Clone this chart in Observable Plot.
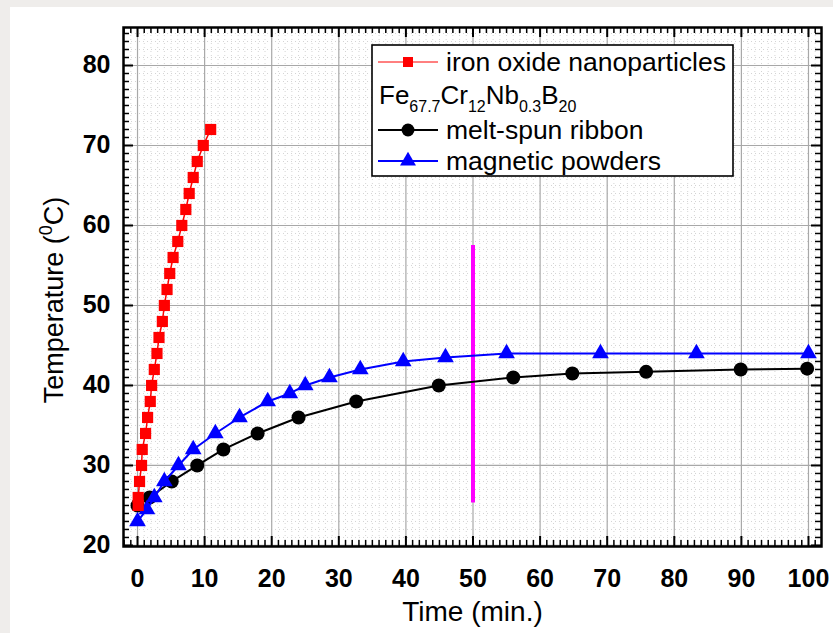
<!DOCTYPE html>
<html><head><meta charset="utf-8">
<script src="https://cdn.jsdelivr.net/npm/d3@7"></script>
<script src="https://cdn.jsdelivr.net/npm/@observablehq/plot@0.6"></script>
<style>
html,body{margin:0;padding:0;background:#efedeb;width:833px;height:633px;overflow:hidden}
#chart{position:absolute;left:10px;top:7px;}
</style></head><body><div id="chart"></div>
<script>
// ---- data ----
const ironTime = [0.1, 0.1, 0.3, 0.6, 0.7, 1.2, 1.5, 1.9, 2.1, 2.5, 2.9, 3.2, 3.7, 4.0, 4.4, 4.8, 5.3, 6.0, 6.6, 7.2, 7.7, 8.3, 8.9, 9.8, 10.9];
const ironTemp = [25, 26, 28, 30, 32, 34, 36, 38, 40, 42, 44, 46, 48, 50, 52, 54, 56, 58, 60, 62, 64, 66, 68, 70, 72];
const ribbonTime = [0, 1.8, 5.1, 8.9, 12.8, 17.9, 24.0, 32.6, 44.9, 56.0, 64.8, 75.8, 89.9, 99.8];
const ribbonTemp = [25, 26, 28, 30, 32, 34, 36, 38, 40, 41, 41.5, 41.7, 42, 42.1];
const powderTime = [0, 1.4, 2.5, 4.0, 6.1, 8.3, 11.6, 15.2, 19.4, 22.7, 25.0, 28.6, 33.2, 39.6, 45.9, 55.0, 69.0, 83.3, 100];
const powderTemp = [23, 24.5, 26, 28, 30, 32, 34, 36, 38, 39, 40, 41, 42, 43, 43.5, 44, 44, 44, 44];
const markerTime = 50;
const markerTempFrom = 25.3;
const markerTempTo = 57.5;
const xTicks = [0, 10, 20, 30, 40, 50, 60, 70, 80, 90, 100];
const yTicks = [20, 30, 40, 50, 60, 70, 80];
const xMinor = d3.range(-2, 102, 1).filter(v => v % 10 !== 0);
const yMinor = d3.range(20, 85, 1).filter(v => v % 10 !== 0);
const legendLabels = ["iron oxide nanoparticles", "melt-spun ribbon", "magnetic powders"];

const iron = ironTime.map((t, i) => ({t, T: ironTemp[i]}));
const ribbon = ribbonTime.map((t, i) => ({t, T: ribbonTemp[i]}));
const powder = powderTime.map((t, i) => ({t, T: powderTemp[i]}));

const W = 823, H = 626;
const mL = 113, mR = 12, mT = 20, mB = 87;
const innerW = W - mL - mR, innerH = H - mT - mB;
const font = "'Liberation Sans', Arial, Helvetica, sans-serif";

const plot = Plot.plot({
  width: W, height: H,
  marginLeft: mL, marginRight: mR, marginTop: mT, marginBottom: mB,
  x: {domain: [-2.09, 101.94], axis: null},
  y: {domain: [19.87, 84.75], axis: null},
  style: {fontFamily: font, background: "white", color: "black", overflow: "visible"},
  marks: [
    Plot.gridX(xMinor, {stroke: "#d4d4d4", strokeOpacity: 1, strokeDasharray: "1,3"}),
    Plot.gridY(yMinor, {stroke: "#d4d4d4", strokeOpacity: 1, strokeDasharray: "1,3"}),
    Plot.gridX(xTicks, {stroke: "#a8a8a8", strokeOpacity: 1, strokeWidth: 1.2}),
    Plot.gridY(yTicks, {stroke: "#a8a8a8", strokeOpacity: 1, strokeWidth: 1.2}),
    // inward ticks
    Plot.tickX(xTicks, {x: d => d, insetTop: innerH - 10, strokeWidth: 2}),
    Plot.tickX(xTicks, {x: d => d, insetBottom: innerH - 10, strokeWidth: 2}),
    Plot.tickX(xMinor, {x: d => d, insetTop: innerH - 6, strokeWidth: 1.5}),
    Plot.tickX(xMinor, {x: d => d, insetBottom: innerH - 6, strokeWidth: 1.5}),
    Plot.tickY(yTicks, {y: d => d, insetRight: innerW - 10, strokeWidth: 2}),
    Plot.tickY(yTicks, {y: d => d, insetLeft: innerW - 10, strokeWidth: 2}),
    Plot.tickY(yMinor, {y: d => d, insetRight: innerW - 6, strokeWidth: 1.5}),
    Plot.tickY(yMinor, {y: d => d, insetLeft: innerW - 6, strokeWidth: 1.5}),
    Plot.axisX(xTicks, {anchor: "bottom", tickSize: 0, tickPadding: 23, fontSize: 25, fontWeight: "bold", label: null}),
    Plot.axisY(yTicks, {anchor: "left", tickSize: 0, tickPadding: 13, fontSize: 25, fontWeight: "bold", label: null}),
    Plot.ruleX([markerTime], {y1: markerTempFrom, y2: markerTempTo, stroke: "#ff00ff", strokeWidth: 4}),
    Plot.line(ribbon, {x: "t", y: "T", stroke: "black", strokeWidth: 2}),
    Plot.dot(ribbon, {x: "t", y: "T", fill: "black", r: 7, symbol: "circle"}),
    Plot.line(powder, {x: "t", y: "T", stroke: "#0000ff", strokeWidth: 2}),
    Plot.dot(powder, {x: "t", y: "T", fill: "#0000ff", r: 6.2, symbol: "triangle"}),
    Plot.line(iron, {x: "t", y: "T", stroke: "#ff0000", strokeWidth: 1.5}),
    Plot.dot(iron, {x: "t", y: "T", fill: "#ff0000", r: 6.3, symbol: "square"}),
    Plot.frame({stroke: "black", strokeWidth: 2.5}),
    Plot.text(["Time (min.)"], {frameAnchor: "bottom", dy: 74, fontSize: 28, text: d => d})
  ]
});
document.getElementById("chart").appendChild(plot);

// ---- y axis title with superscript ----
const svg = d3.select(plot);
const yt = svg.append("text")
  .attr("transform", "translate(53,293) rotate(-90)")
  .attr("text-anchor", "middle")
  .attr("font-size", 27)
  .attr("font-family", font)
  .attr("fill", "black");
yt.append("tspan").text("Temperature (");
yt.append("tspan").attr("font-size", 18).attr("dy", -11).text("0");
yt.append("tspan").attr("dy", 11).text("C)");

// ---- legend ----
const lg = svg.append("g").attr("font-family", font).attr("fill", "black").attr("text-anchor", "start");
lg.append("rect").attr("x", 362).attr("y", 38).attr("width", 361).attr("height", 131)
  .attr("fill", "white").attr("stroke", "black").attr("stroke-width", 1.6);
const rows = [
  {y: 55, color: "#ff0000", w: 1, sym: d3.symbolSquare, size: 100, label: legendLabels[0]},
  {y: 123, color: "black", w: 2, sym: d3.symbolCircle, size: 130, label: legendLabels[1]},
  {y: 154, color: "#0000ff", w: 2, sym: d3.symbolTriangle, size: 110, label: legendLabels[2]}
];
for (const r of rows) {
  lg.append("line").attr("x1", 368).attr("x2", 428).attr("y1", r.y).attr("y2", r.y)
    .attr("stroke", r.color).attr("stroke-width", r.w);
  lg.append("path").attr("d", d3.symbol(r.sym, r.size)()).attr("transform", `translate(398,${r.y})`)
    .attr("fill", r.color);
  lg.append("text").attr("x", 436).attr("y", r.y + 9).attr("font-size", 26.5).attr("text-anchor", "start").text(r.label);
}
const fx = lg.append("text").attr("x", 369).attr("y", 97).attr("font-size", 26).attr("text-anchor", "start");
const parts = [["Fe", false], ["67.7", true], ["Cr", false], ["12", true], ["Nb", false], ["0.3", true], ["B", false], ["20", true]];
let sub = false;
for (const [t, s] of parts) {
  const ts = fx.append("tspan").text(t);
  if (s) { ts.attr("font-size", 16).attr("dy", sub ? 0 : 8); }
  else { ts.attr("dy", sub ? -8 : 0); }
  sub = s;
}
</script></body></html>
